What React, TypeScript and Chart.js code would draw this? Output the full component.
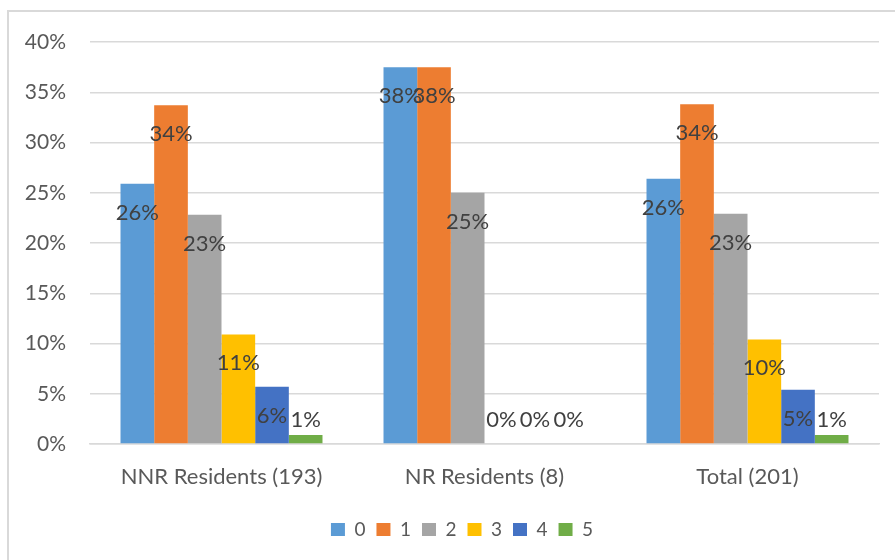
import React, { useEffect, useRef } from "react";
import { Chart, registerables } from "chart.js";

Chart.register(...registerables);

const categories = ["NNR Residents (193)", "NR Residents (8)", "Total (201)"];
const seriesNames = ["0", "1", "2", "3", "4", "5"];
const series0 = [25.9, 37.5, 26.4];
const series1 = [33.7, 37.5, 33.8];
const series2 = [22.8, 25.0, 22.9];
const series3 = [10.9, 0, 10.4];
const series4 = [5.7, 0, 5.4];
const series5 = [0.9, 0, 0.9];
const seriesColors = ["#5B9BD5", "#ED7D31", "#A5A5A5", "#FFC000", "#4472C4", "#70AD47"];
const yTicks = [0, 5, 10, 15, 20, 25, 30, 35, 40];

const FONT = "Lato, 'Open Sans', sans-serif";

const labelPlugin = {
  id: "barLabels",
  afterDatasetsDraw(chart: any) {
    const ctx = chart.ctx;
    const base = chart.scales.y.getPixelForValue(0);
    ctx.save();
    ctx.font = `22px ${FONT}`;
    ctx.fillStyle = "#404040";
    ctx.textAlign = "center";
    ctx.textBaseline = "alphabetic";
    chart.data.datasets.forEach((ds: any, i: number) => {
      const meta = chart.getDatasetMeta(i);
      meta.data.forEach((bar: any, j: number) => {
        const v = ds.data[j];
        const y = Math.min(bar.y + 36, base - 17);
        ctx.fillText(Math.round(v) + "%", bar.x, y);
      });
    });
    ctx.restore();
  },
};

export default function App() {
  const ref = useRef<HTMLCanvasElement>(null);
  useEffect(() => {
    const all = [series0, series1, series2, series3, series4, series5];
    const chart = new Chart(ref.current!, {
      type: "bar",
      data: {
        labels: categories,
        datasets: all.map((d, i) => ({
          label: seriesNames[i],
          data: d,
          backgroundColor: seriesColors[i],
          borderWidth: 0,
          categoryPercentage: 0.768,
          barPercentage: 1,
        })),
      },
      options: {
        responsive: false,
        animation: false,
        layout: { padding: { left: 0, right: 0, top: 42, bottom: 11 } },
        plugins: {
          tooltip: { enabled: false },
          legend: {
            position: "bottom",
            labels: {
              boxWidth: 14,
              boxHeight: 13,
              padding: 11,
              color: "#595959",
              font: { family: FONT, size: 19 },
            },
          },
        },
        scales: {
          x: {
            grid: { display: false },
            border: { color: "#d9d9d9", width: 1.5 },
            ticks: { color: "#595959", font: { family: FONT, size: 22 }, padding: 12 },
            afterFit: (s: any) => { s.height = 65; },
          },
          y: {
            min: 0,
            max: 40,
            afterBuildTicks: (s: any) => { s.ticks = yTicks.map((v) => ({ value: v })); },
            grid: { color: "#d9d9d9", lineWidth: 1.5, drawTicks: false },
            border: { display: false },
            ticks: {
              color: "#595959",
              font: { family: FONT, size: 21 },
              padding: 24,
              callback: (v: any) => v + "%",
            },
            afterFit: (s: any) => { s.width = 90; },
          },
          y2: {
            type: "linear",
            position: "right",
            display: true,
            min: 0,
            max: 40,
            grid: { display: false, drawTicks: false },
            border: { display: false },
            ticks: { display: false },
            afterFit: (s: any) => { s.width = 45; },
          },
        },
      },
      plugins: [labelPlugin],
    });
    return () => chart.destroy();
  }, []);
  return (
    <div style={{ position: "fixed", left: 0, top: 0, width: 895, height: 560, background: "#fff", overflow: "hidden" }}>
      <div style={{ position: "absolute", left: 7, top: 10, width: 900, height: 560, borderLeft: "2px solid #d9d9d9", borderTop: "2px solid #d9d9d9" }} />
      <canvas ref={ref} width={924} height={560} style={{ position: "absolute", left: 0, top: 0 }} />
    </div>
  );
}
